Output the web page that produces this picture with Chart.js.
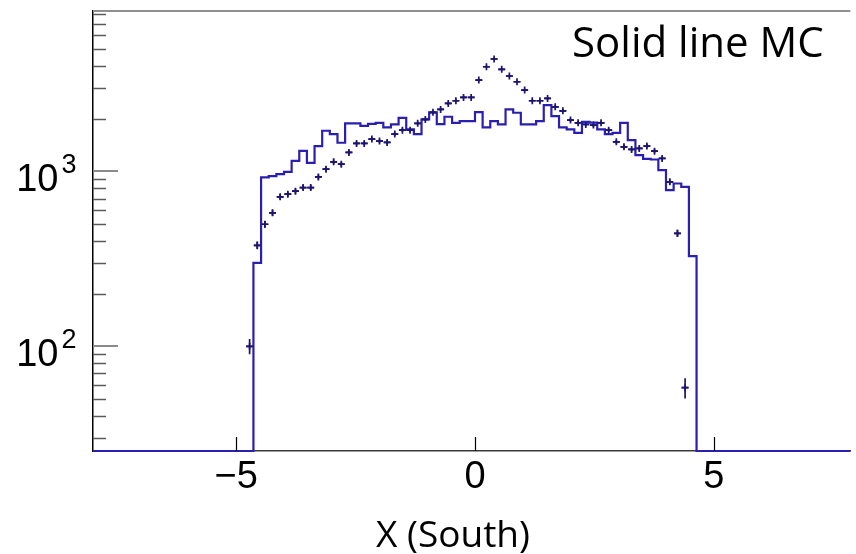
<!DOCTYPE html>
<html lang="en">
<head>
<meta charset="UTF-8">
<title>X (South)</title>
<script src="https://cdn.jsdelivr.net/npm/chart.js"></script>
<style>
    html, body { margin: 0; padding: 0; background: #fff; overflow: hidden; }
    canvas { display: block; }
</style>
</head>
<body>
<canvas id="xChart" width="856" height="554"></canvas>
<script>
// binning: 0.16 wide bins, only the filled ones are listed
const BIN_W = 0.16;
const MC_FIRST_EDGE = -4.64;     // left edge of first MC bin
const DATA_FIRST_CENTER = -4.72; // centre of first data bin

// MC histogram (solid line), bins -4.64 .. 4.64
const mcCounts = [
    300, 925, 940, 965, 994, 1150, 1312, 1120, 1396, 1709,
    1635, 1459, 1883, 1883, 1824, 1870, 1897, 1786, 1858, 2027,
    1740, 1635, 1985, 2177, 1866, 2055, 1897, 1941, 1941, 2185,
    1786, 1941, 1858, 2264, 2166, 1858, 1858, 1941, 2396, 2073,
    1786, 1740, 1663, 1923, 1900, 1740, 1635, 1663, 1897, 1511,
    1240, 1180, 1170, 1017, 782, 853, 816, 328
];

// data points (crosses), bin centres -4.72 .. 4.40
const dataCounts = [
    100, 378, 499, 580, 716, 741, 771, 809, 809, 931,
    1031, 1135, 1101, 1285, 1446, 1446, 1531, 1491, 1466, 1635,
    1722, 1722, 1884, 1985, 2177, 2264, 2450, 2537, 2652, 2652,
    3332, 3970, 4395, 3837, 3513, 3258, 2920, 2537, 2537, 2617,
    2343, 2222, 1967, 1898, 1858, 1841, 1898, 1722, 1477, 1383,
    1336, 1354, 1396, 1306, 1187, 872, 443, 58
];

const xTicks = [-5, 0, 5];
const yMajorTicks = [100, 1000];
const yMajorExps = ['2', '3'];
const yDecades = [10, 100, 1000];
const yMinorSteps = [2, 3, 4, 5, 6, 7, 8, 9];

const X_MIN = -8, X_MAX = 7.86;
const Y_MIN = 25.2, Y_MAX = 8270;

const MC_COLOR = '#2a1fb0';
const DATA_COLOR = '#1d1470';

// step points for the MC line (value held until the next edge)
const mcPoints = [{ x: X_MIN, y: Y_MIN }];
mcCounts.forEach((v, i) => mcPoints.push({ x: MC_FIRST_EDGE + i * BIN_W, y: v }));
mcPoints.push({ x: MC_FIRST_EDGE + mcCounts.length * BIN_W, y: Y_MIN });
mcPoints.push({ x: X_MAX, y: Y_MIN });

const dataPoints = dataCounts.map((v, i) => ({ x: DATA_FIRST_CENTER + i * BIN_W, y: v }));

const yMinorTicks = [];
yDecades.forEach(d => yMinorSteps.forEach(s => {
    const v = d * s;
    if (v > Y_MIN && v < Y_MAX) yMinorTicks.push(v);
}));

// error bars on the data: sqrt(N) vertical, half bin horizontal
const errorBars = {
    id: 'errorBars',
    afterDatasetsDraw(chart) {
        const { ctx, scales: { x, y } } = chart;
        ctx.save();
        ctx.strokeStyle = DATA_COLOR;
        ctx.lineWidth = 1.7;
        dataPoints.forEach(p => {
            const e = Math.sqrt(p.y);
            const px = x.getPixelForValue(p.x);
            const py = y.getPixelForValue(p.y);
            ctx.beginPath();
            ctx.moveTo(px, y.getPixelForValue(p.y + e));
            ctx.lineTo(px, y.getPixelForValue(Math.max(p.y - e, Y_MIN)));
            ctx.moveTo(x.getPixelForValue(p.x - 0.07), py);
            ctx.lineTo(x.getPixelForValue(p.x + 0.07), py);
            ctx.stroke();
        });
        ctx.restore();
    }
};

// ROOT style frame: inward ticks, top line, y labels with exponents, slide texts
const rootFrame = {
    id: 'rootFrame',
    beforeDatasetsDraw(chart) {
        const { ctx, chartArea: a } = chart;
        ctx.save();
        ctx.strokeStyle = '#8f8f8f';
        ctx.lineWidth = 2;
        ctx.beginPath();
        ctx.moveTo(a.left, a.top);
        ctx.lineTo(a.right, a.top);
        ctx.stroke();
        ctx.restore();
    },
    afterDraw(chart) {
        const { ctx, chartArea: a, scales: { x, y } } = chart;
        ctx.save();

        // y ticks, drawn inside the frame
        ctx.lineWidth = 1.5;
        ctx.strokeStyle = '#5a5a5a';
        yMinorTicks.forEach(v => {
            const py = Math.round(y.getPixelForValue(v)) + 0.5;
            ctx.beginPath();
            ctx.moveTo(a.left, py);
            ctx.lineTo(a.left + 13, py);
            ctx.stroke();
        });
        ctx.strokeStyle = '#8a8a8a';
        ctx.lineWidth = 2;
        yMajorTicks.forEach(v => {
            const py = Math.round(y.getPixelForValue(v));
            ctx.beginPath();
            ctx.moveTo(a.left, py);
            ctx.lineTo(a.left + 25, py);
            ctx.stroke();
        });

        // x ticks
        ctx.strokeStyle = '#000';
        ctx.lineWidth = 1.2;
        xTicks.forEach(v => {
            const px = Math.round(x.getPixelForValue(v)) + 0.5;
            ctx.beginPath();
            ctx.moveTo(px, a.bottom);
            ctx.lineTo(px, a.bottom - 14);
            ctx.stroke();
        });

        // y labels 10^n
        ctx.fillStyle = '#000';
        ctx.textBaseline = 'alphabetic';
        yMajorTicks.forEach((v, i) => {
            const py = y.getPixelForValue(v);
            ctx.font = '38px "Liberation Sans", Arial, sans-serif';
            ctx.textAlign = 'right';
            ctx.fillText('10', 58.5, py + 19.5);
            ctx.font = '27px "Liberation Sans", Arial, sans-serif';
            ctx.textAlign = 'left';
            ctx.fillText(yMajorExps[i], 61.5, py + 2);
        });

        // slide texts
        ctx.font = '42px "Open Sans", sans-serif';
        ctx.textAlign = 'left';
        ctx.fillText('Solid line MC', 572, 57);
        ctx.font = '37px "Open Sans", sans-serif';
        ctx.textAlign = 'center';
        ctx.fillText('X (South)', 453, 547);

        ctx.restore();
    }
};

new Chart(document.getElementById('xChart'), {
    data: {
        datasets: [
            {
                type: 'line',
                label: 'MC',
                data: mcPoints,
                stepped: 'before',
                borderColor: MC_COLOR,
                borderWidth: 2.2,
                pointRadius: 0,
                fill: false,
                clip: false
            },
            {
                type: 'scatter',
                label: 'Data',
                data: dataPoints,
                pointStyle: 'cross',
                pointRadius: 3.5,
                borderColor: DATA_COLOR,
                backgroundColor: DATA_COLOR,
                borderWidth: 1.7
            }
        ]
    },
    options: {
        responsive: false,
        devicePixelRatio: 1,
        animation: false,
        layout: { padding: { top: 11, left: 0, right: 0, bottom: 0 } },
        plugins: { legend: { display: false }, tooltip: { enabled: false } },
        scales: {
            x: {
                type: 'linear',
                position: 'bottom',
                min: X_MIN,
                max: X_MAX,
                afterBuildTicks: s => { s.ticks = xTicks.map(v => ({ value: v })); },
                afterFit: s => { s.height = 103; },
                grid: { display: false, drawTicks: false },
                border: { display: true, color: '#3a3a3a', width: 1.5 },
                ticks: {
                    autoSkip: false,
                    maxRotation: 0,
                    padding: 4,
                    color: '#000',
                    font: { family: '"Liberation Sans", Arial, sans-serif', size: 38 },
                    callback: v => v < 0 ? '\u2212' + Math.abs(v) : String(v)
                }
            },
            y: {
                type: 'logarithmic',
                position: 'left',
                min: Y_MIN,
                max: Y_MAX,
                afterBuildTicks: s => { s.ticks = yMajorTicks.map(v => ({ value: v })); },
                afterFit: s => { s.width = 93; },
                grid: { display: false, drawTicks: false },
                border: { display: true, color: '#000', width: 1.5 },
                ticks: { display: false }
            }
        }
    },
    plugins: [errorBars, rootFrame]
});
</script>
</body>
</html>
